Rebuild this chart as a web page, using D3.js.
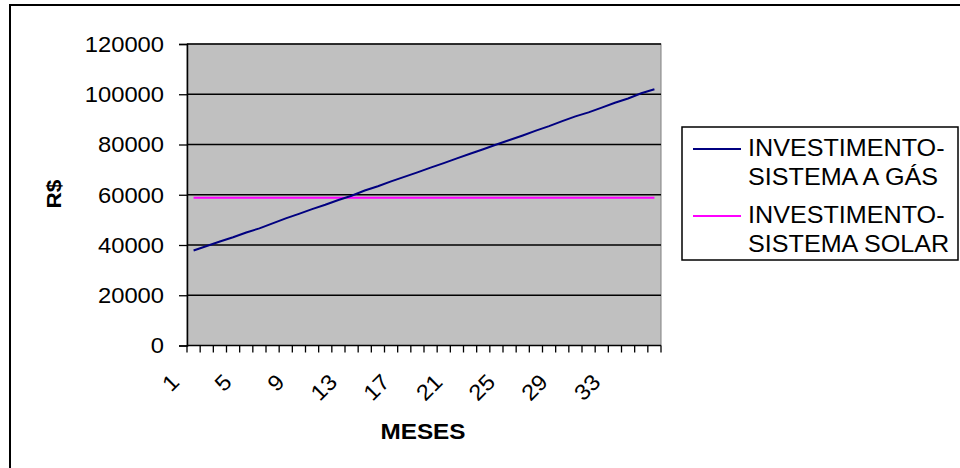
<!DOCTYPE html>
<html>
<head>
<meta charset="utf-8">
<script src="https://cdn.jsdelivr.net/npm/d3@7"></script>
<style>
  body { margin: 0; background: #fff; }
  svg { display: block; font-family: Arial, "Liberation Sans", sans-serif; }
</style>
</head>
<body>
<svg id="chart" width="960" height="468"></svg>
<script>
const months = d3.range(1, 37);
const gasValues = [37800, 39600, 41400, 43100, 45000, 46600, 48600, 50600, 52400, 54300,
  56000, 57900, 59600, 61700, 63400, 65300, 67100, 68900, 70800, 72600,
  74500, 76300, 78100, 80000, 81800, 83600, 85500, 87300, 89300, 91200,
  92800, 94700, 96600, 98300, 100400, 102000];
const solarValues = months.map(() => 58800);
const yTicks = [0, 20000, 40000, 60000, 80000, 100000, 120000];
const xLabels = [1, 5, 9, 13, 17, 21, 25, 29, 33];
const seriesNames = [["INVESTIMENTO-", "SISTEMA A GÁS"], ["INVESTIMENTO-", "SISTEMA SOLAR"]];
const seriesColors = ["#000080", "#FF00FF"];

const SX = 1.08; // horizontal stretch of text
const svg = d3.select("#chart");

// outer border
svg.append("rect").attr("x", 10).attr("y", 5).attr("width", 960).attr("height", 480)
  .attr("fill", "none").attr("stroke", "#000").attr("stroke-width", 2);

const x0 = 187, x1 = 661, yTop = 44, yBot = 345.5;
const x = d3.scaleBand().domain(months).range([x0, x1]).padding(0);
const y = d3.scaleLinear().domain([0, 120000]).range([yBot, yTop]);
const cx = d => x(d) + x.bandwidth() / 2;

// plot area
svg.append("rect").attr("x", x0).attr("y", yTop).attr("width", x1 - x0).attr("height", yBot - yTop)
  .attr("fill", "#C0C0C0").attr("stroke", "#808080").attr("stroke-width", 1);

// gridlines
svg.append("g").selectAll("line").data(yTicks.filter(t => t > 0)).join("line")
  .attr("x1", x0).attr("x2", x1).attr("y1", d => y(d)).attr("y2", d => y(d))
  .attr("stroke", "#000").attr("stroke-width", 1.3);

// y axis
const yAxis = svg.append("g").attr("transform", `translate(${x0},0)`)
  .call(d3.axisLeft(y).tickValues(yTicks).tickSize(8).tickFormat(""));
yAxis.select(".domain").attr("stroke", "#000").attr("stroke-width", 1.5);
yAxis.selectAll(".tick line").attr("stroke", "#000").attr("stroke-width", 1.3);
svg.append("g").selectAll("text").data(yTicks).join("text")
  .attr("transform", d => `translate(164,${y(d)}) scale(${SX},1)`)
  .attr("text-anchor", "end").attr("dy", "0.36em")
  .attr("font-size", 22).attr("fill", "#000").text(d => d3.format("d")(d));

// x axis
const xAxisG = svg.append("g");
xAxisG.append("line").attr("x1", x0).attr("x2", x1).attr("y1", yBot).attr("y2", yBot)
  .attr("stroke", "#000").attr("stroke-width", 1.5);
const boundaries = months.map(m => x(m)).concat([x1]);
xAxisG.selectAll("line.tk").data(boundaries).join("line").attr("class", "tk")
  .attr("x1", d => d).attr("x2", d => d).attr("y1", yBot).attr("y2", yBot + 7)
  .attr("stroke", "#000").attr("stroke-width", 1.3);
xAxisG.selectAll("text").data(xLabels).join("text")
  .attr("transform", d => `translate(${cx(d) - 24},${yBot + 27}) rotate(-45) scale(${SX},1)`)
  .attr("text-anchor", "end").attr("dy", "0.7em")
  .attr("font-size", 22).attr("fill", "#000").text(d => d);

// lines
const line = d3.line().x((d, i) => cx(months[i])).y(d => y(d));
svg.append("path").datum(solarValues).attr("d", line).attr("fill", "none")
  .attr("stroke", seriesColors[1]).attr("stroke-width", 2);
svg.append("path").datum(gasValues).attr("d", line).attr("fill", "none")
  .attr("stroke", seriesColors[0]).attr("stroke-width", 2);

// axis titles
svg.append("text").attr("transform", `translate(61,194) rotate(-90) scale(${SX},1)`).attr("text-anchor", "middle")
  .attr("font-size", 21).attr("font-weight", "bold").text("R$");
svg.append("text").attr("transform", `translate(423,439) scale(${SX},1)`).attr("text-anchor", "middle")
  .attr("font-size", 22.5).attr("font-weight", "bold").text("MESES");

// legend
const lg = svg.append("g");
lg.append("rect").attr("x", 682).attr("y", 127).attr("width", 276).attr("height", 133)
  .attr("fill", "#fff").attr("stroke", "#000").attr("stroke-width", 1.5);
const entryY = [149, 216];
seriesNames.forEach((lines, i) => {
  lg.append("line").attr("x1", 693).attr("x2", 741).attr("y1", entryY[i]).attr("y2", entryY[i])
    .attr("stroke", seriesColors[i]).attr("stroke-width", 2);
  lines.forEach((t, j) => {
    lg.append("text").attr("transform", `translate(748,${entryY[i] + 6.5 + j * 29.3}) scale(${SX},1)`)
      .attr("font-size", 23.3).attr("fill", "#000").text(t);
  });
});
</script>
</body>
</html>
